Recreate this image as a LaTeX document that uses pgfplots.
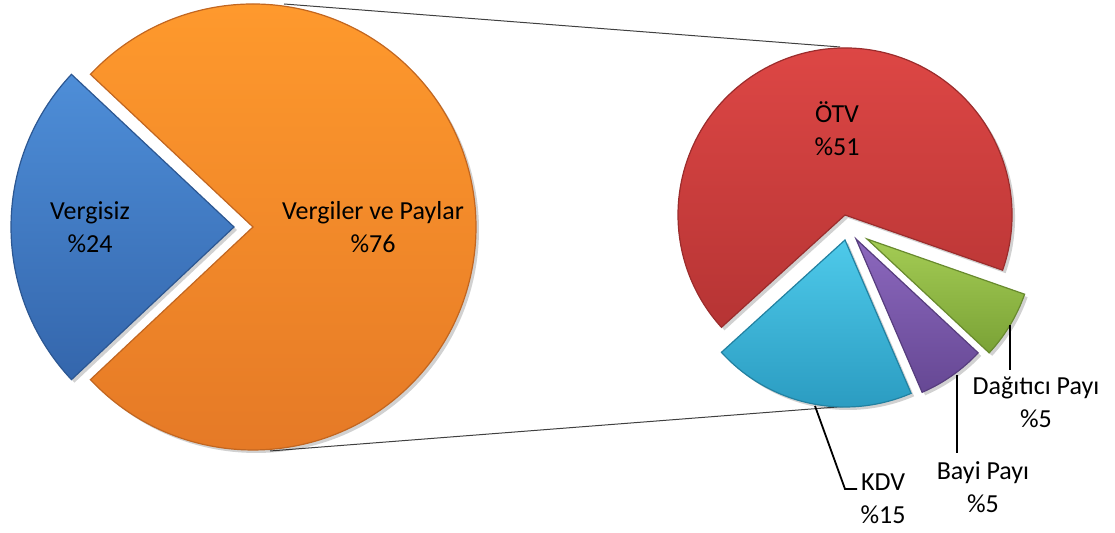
\documentclass[border=0pt]{standalone}
\usepackage{fontspec}
\setmainfont{Carlito}
\usepackage{pgfplots}
\pgfplotsset{compat=1.18}
\usepackage{pgfplotstable}

\pgfplotstableread{
name value
Vergisiz 24
Vergiler 76
}\primary

\pgfplotstableread{
name value
OTV 51
KDV 15
Bayi 5
Dagitici 5
}\secondary

\definecolor{blueT}{RGB}{78,142,216}
\definecolor{blueB}{RGB}{52,102,172}
\definecolor{oraT}{RGB}{255,154,45}
\definecolor{oraB}{RGB}{228,120,38}
\definecolor{redT}{RGB}{224,72,70}
\definecolor{redB}{RGB}{182,52,52}
\definecolor{cyaT}{RGB}{78,202,234}
\definecolor{cyaB}{RGB}{40,152,190}
\definecolor{purT}{RGB}{140,104,190}
\definecolor{purB}{RGB}{102,72,148}
\definecolor{grnT}{RGB}{164,204,84}
\definecolor{grnB}{RGB}{122,162,54}

\newcommand\pieslice[6]{%
  \pgfplotsextra{%
  \pgfmathsetmacro\wx{#1+#3*cos(#4)}%
  \pgfmathsetmacro\wy{#2+#3*sin(#4)}%
  \pgfmathsetmacro\wr{#3*0.5}%
  \path[overlay,fill=black,opacity=0.18] (axis cs:#1+3,#2-3) -- (axis cs:\wx+3,\wy-3) arc[start angle=#4, end angle=#5, radius=\wr pt] -- cycle;
  \path[overlay,#6] (axis cs:#1,#2) -- (axis cs:\wx,\wy) arc[start angle=#4, end angle=#5, radius=\wr pt] -- cycle;
  }%
}

\begin{document}
\begin{tikzpicture}
% values from tables
\pgfplotstablegetelem{0}{value}\of\primary \let\vA\pgfplotsretval
\pgfplotstablegetelem{1}{value}\of\primary \let\vB\pgfplotsretval
\pgfmathsetmacro\totP{\vA+\vB}
\pgfmathsetmacro\bA{180-\vA/\totP*180}
\pgfmathsetmacro\bB{180+\vA/\totP*180}
\pgfmathsetmacro\oB{\bA+360}
\pgfplotstablegetelem{0}{value}\of\secondary \let\sA\pgfplotsretval
\pgfplotstablegetelem{1}{value}\of\secondary \let\sB\pgfplotsretval
\pgfplotstablegetelem{2}{value}\of\secondary \let\sC\pgfplotsretval
\pgfplotstablegetelem{3}{value}\of\secondary \let\sD\pgfplotsretval
\pgfmathsetmacro\totS{\sA+\sB+\sC+\sD}
\pgfmathsetmacro\aZ{-19.3}
\pgfmathsetmacro\aA{\aZ+\sA/\totS*360}
\pgfmathsetmacro\aB{\aA+\sB/\totS*360}
\pgfmathsetmacro\aC{\aB+\sC/\totS*360}
\pgfmathsetmacro\aD{\aC+\sD/\totS*360}
\begin{axis}[scale only axis, width=557.5pt, height=266.5pt,
  xmin=0, xmax=1115, ymin=0, ymax=533, hide axis, clip=false, disabledatascaling]
\path (axis cs:0,0) rectangle (axis cs:1115,533);
% connector lines
\draw[black!75, line width=0.5pt] (axis cs:284,529) -- (axis cs:840,486);
\draw[black!75, line width=0.5pt] (axis cs:270,82) -- (axis cs:850,127);
% primary pie
\pieslice{253}{306}{223}{\bB}{\oB}{top color=oraT, bottom color=oraB, draw=oraB!85!black, line width=0.6pt}
\pieslice{234}{306}{223}{\bA}{\bB}{top color=blueT, bottom color=blueB, draw=blueB!85!black, line width=0.6pt}
% secondary pie
\pieslice{845}{318}{167}{\aZ}{\aA}{top color=redT, bottom color=redB, draw=redB!85!black, line width=0.6pt}
\pieslice{845}{293}{167}{\aA}{\aB}{top color=cyaT, bottom color=cyaB, draw=cyaB!85!black, line width=0.6pt}
\pieslice{856}{294}{167}{\aB}{\aC}{top color=purT, bottom color=purB, draw=purB!85!black, line width=0.6pt}
\pieslice{867}{294}{167}{\aC}{\aD}{top color=grnT, bottom color=grnB, draw=grnB!85!black, line width=0.6pt}
% leader lines
\draw[black, line width=0.9pt] (axis cs:815,127) -- (axis cs:845,44) -- (axis cs:857,44);
\draw[black, line width=0.9pt] (axis cs:957,158) -- (axis cs:957,80);
\draw[black, line width=0.9pt] (axis cs:1010,208) -- (axis cs:1010,163);
% labels
\tikzset{lab/.style={align=center, font=\fontsize{13}{16.5}\selectfont, inner sep=0pt}}
\node[lab] at (axis cs:90,306) {Vergisiz\\\%24};
\node[lab] at (axis cs:373,306) {Vergiler ve Paylar\\\%76};
\node[lab] at (axis cs:837,404) {ÖTV\\\%51};
\node[lab] at (axis cs:1036,131) {Dağıtıcı Payı\\\%5};
\node[lab] at (axis cs:983,46) {Bayi Payı\\\%5};
\node[lab] at (axis cs:883,34) {KDV\\\%15};
\end{axis}
\end{tikzpicture}
\end{document}
